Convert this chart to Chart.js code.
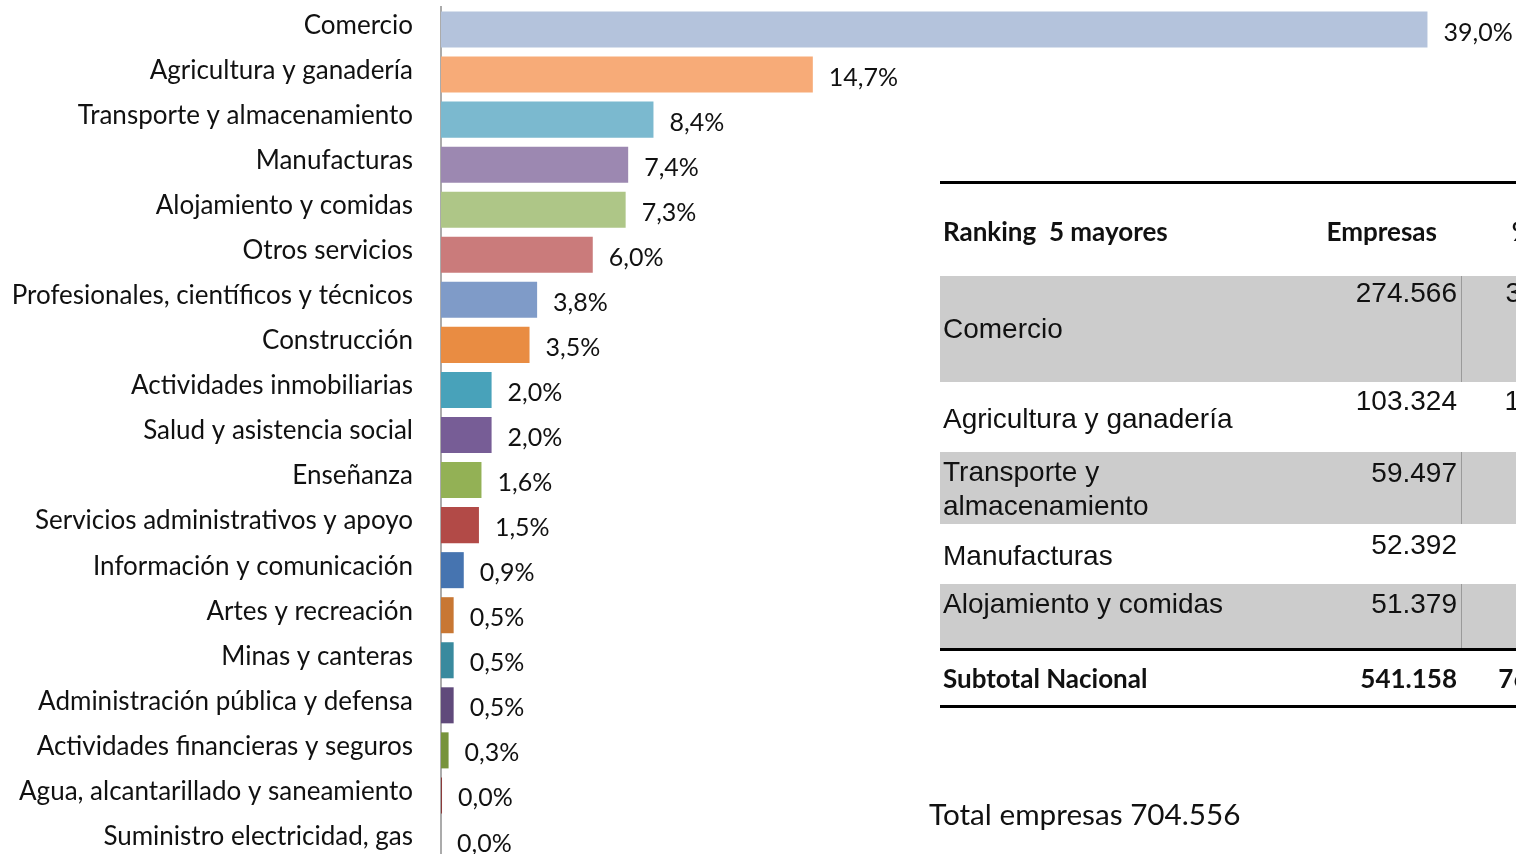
<!DOCTYPE html>
<html>
<head>
<meta charset="utf-8">
<script src="https://cdn.jsdelivr.net/npm/chart.js@4/dist/chart.umd.min.js"></script>
<style>
  html, body { margin:0; padding:0; background:#fff; width:1516px; height:854px; overflow:hidden; }
  #wrap { position:absolute; left:0; top:0; width:1516px; height:863px; }
  #tbl { position:absolute; left:940px; top:181px; width:700px; font-family:"Liberation Sans", Arial, sans-serif; font-size:28px; color:#111; }
  .row { position:absolute; left:0; width:700px; }
  .row .c1, .row .c2, .row .c3 { position:absolute; }
  .row .c1 { left:3px; width:300px; }
  .row .c2 { left:320px; width:197px; text-align:right; }
  .row .c3 { left:521px; width:123px; text-align:right; }
  .hdr { top:0; height:92px; border-top:3px solid #000; border-bottom:3px solid #000; font-family:Lato, "Noto Sans", sans-serif; font-weight:bold; font-size:26px; }
  .hdr .c1, .hdr .c2, .hdr .c3 { top:31px; }
  .hdr .c2 { width:177px; }
  .hdr .c3 { width:72px; }
  .body.gray { background:#cccccc; }
  .body.gray .c3 { border-left:1px solid #9a9a9a; height:100%; top:0; }
  .body .c2 { top:0; }
  .sub { top:467px; height:54px; border-top:3px solid #000; border-bottom:3px solid #000; font-family:Lato, "Noto Sans", sans-serif; font-weight:bold; font-size:26px; }
  .sub .c1, .sub .c2, .sub .c3 { top:11px; }
  .sub .c3 { width:110px; }
  #total { position:absolute; left:929px; top:796px; font-family:Lato, "Noto Sans", sans-serif; font-size:29.7px; color:#111; }
</style>
</head>
<body>
<div id="wrap"><canvas id="c"></canvas></div>
<div id="tbl"></div>
<div id="total"></div>
<script>
// ---- Data ----
const categories = [
  "Comercio", "Agricultura y ganadería", "Transporte y almacenamiento", "Manufacturas",
  "Alojamiento y comidas", "Otros servicios", "Profesionales, científicos y técnicos",
  "Construcción", "Actividades inmobiliarias", "Salud y asistencia social", "Enseñanza",
  "Servicios administrativos y apoyo", "Información y comunicación", "Artes y recreación",
  "Minas y canteras", "Administración pública y defensa", "Actividades financieras y seguros",
  "Agua, alcantarillado y saneamiento", "Suministro electricidad, gas"
];
const shares = [39.0, 14.7, 8.4, 7.4, 7.3, 6.0, 3.8, 3.5, 2.0, 2.0, 1.6, 1.5, 0.9, 0.5, 0.5, 0.5, 0.3, 0.04, 0.0];
const barColors = [
  "#B4C3DC", "#F7AB78", "#7BB9CF", "#9C88B1", "#AEC687", "#CA7B7B", "#7F9BC8",
  "#E98C42", "#48A2BA", "#775D96", "#93B155", "#B24A47", "#4674B0", "#C87733",
  "#398A9E", "#604A7B", "#77933C", "#8B3A3A", "#8B6A3A"
];
const rankHeader = ["Ranking\u00a0\u00a05 mayores", "Empresas", "%"];
const rankNames = ["Comercio", "Agricultura y ganadería", "Transporte y almacenamiento", "Manufacturas", "Alojamiento y comidas"];
const rankCompanies = ["274.566", "103.324", "59.497", "52.392", "51.379"];
const rankPct = ["39,0%", "14,7%", "8,4%", "7,4%", "7,3%"];
const subtotal = ["Subtotal Nacional", "541.158", "76,8%"];
const totalText = "Total empresas 704.556";

// ---- Table ----
const rowStyles = [
  {top: 95, h: 106, gray: true,  c1top: 36, pad: 0},
  {top: 201, h: 70, gray: false, c1top: 20, pad: 2},
  {top: 271, h: 72, gray: true,  c1top: 3, pad: 4},
  {top: 343, h: 60, gray: false, c1top: 15, pad: 4},
  {top: 403, h: 64, gray: true,  c1top: 3, pad: 3}
];
const tbl = document.getElementById('tbl');
let html = `<div class="row hdr"><div class="c1">${rankHeader[0]}</div><div class="c2">${rankHeader[1]}</div><div class="c3">${rankHeader[2]}</div></div>`;
rankNames.forEach((n, i) => {
  const s = rowStyles[i];
  const nm = i === 2 ? "Transporte y<br>almacenamiento" : n;
  html += `<div class="row body${s.gray ? ' gray' : ''}" style="top:${s.top}px;height:${s.h}px">
    <div class="c1" style="top:${s.c1top}px;line-height:34px">${nm}</div>
    <div class="c2" style="top:${s.pad}px;line-height:34px">${rankCompanies[i]}</div>
    <div class="c3"><div style="padding-top:${s.pad}px;line-height:34px">${rankPct[i]}</div></div></div>`;
});
html += `<div class="row sub"><div class="c1">${subtotal[0]}</div><div class="c2">${subtotal[1]}</div><div class="c3">${subtotal[2]}</div></div>`;
tbl.innerHTML = html;
document.getElementById('total').textContent = totalText;

// ---- Chart ----
const valueLabels = {
  id: 'valueLabels',
  afterDatasetsDraw(chart) {
    const ctx = chart.ctx;
    const meta = chart.getDatasetMeta(0);
    ctx.save();
    ctx.font = '25px Lato, "Noto Sans", sans-serif';
    ctx.fillStyle = '#111';
    ctx.textAlign = 'left';
    ctx.textBaseline = 'middle';
    meta.data.forEach((bar, i) => {
      const v = chart.data.datasets[0].data[i];
      ctx.fillText(v.toFixed(1).replace('.', ',') + '%', bar.x + 16, bar.y + 3);
    });
    ctx.restore();
  }
};

new Chart(document.getElementById('c'), {
  type: 'bar',
  data: {
    labels: categories,
    datasets: [{ data: shares, backgroundColor: barColors, borderWidth: 0, barPercentage: 0.8, categoryPercentage: 1.0 }]
  },
  options: {
    indexAxis: 'y',
    responsive: true,
    maintainAspectRatio: false,
    animation: false,
    layout: { padding: { top: 7, bottom: 0, left: 0, right: 0 } },
    plugins: { legend: { display: false }, tooltip: { enabled: false } },
    scales: {
      x: { display: false, min: 0, max: 42.5 },
      y: {
        afterFit(s) { s.width = 441; s.paddingTop = 0; s.paddingBottom = 0; },
        grid: { display: false, drawTicks: false },
        border: { display: true, color: '#ababab', width: 2 },
        ticks: { padding: 28, labelOffset: -4, color: '#111', font: { family: 'Lato, "Noto Sans", sans-serif', size: 26 } }
      }
    }
  },
  plugins: [valueLabels]
});
</script>
</body>
</html>
